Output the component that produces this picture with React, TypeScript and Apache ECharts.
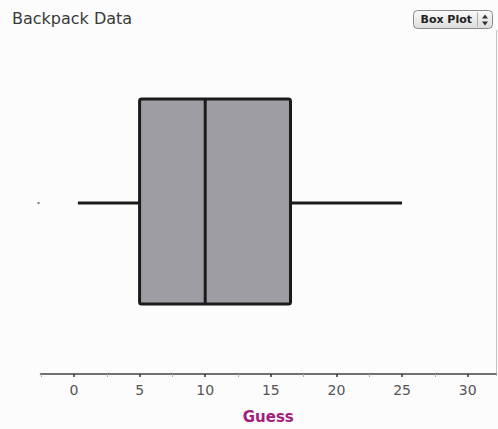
import React, { useEffect, useRef } from "react";
import * as echarts from "echarts";

const title = "Backpack Data";
const axisName = "Guess";
const categories = ["Guess"];
const minValues = [0.3];
const q1Values = [5];
const medianValues = [10];
const q3Values = [16.5];
const maxValues = [25];
const outlierValues = [-2.7];
const tickLabels = [0, 5, 10, 15, 20, 25, 30];
const minorTicks = [-2.5, 2.5, 7.5, 12.5, 17.5, 22.5, 27.5];

export default function App() {
  const ref = useRef<HTMLDivElement>(null);
  useEffect(() => {
    if (!ref.current) return;
    const chart = echarts.init(ref.current, null, { renderer: "svg" });
    const boxData = categories.map((_, i) => [
      minValues[i],
      q1Values[i],
      medianValues[i],
      q3Values[i],
      maxValues[i],
    ]);
    const axisMin = -2.55;
    const axisMax = 32.16;
    const font = "DejaVu Sans";
    chart.setOption({
      animation: false,
      backgroundColor: "#fcfcfc",
      grid: { left: 40.5, right: 2, top: 32, bottom: 53 },
      xAxis: [
        {
          type: "value",
          min: axisMin,
          max: axisMax,
          position: "bottom",
          name: axisName,
          nameLocation: "middle",
          nameGap: 35,
          nameTextStyle: {
            color: "#a2207c",
            fontFamily: font,
            fontWeight: "bold",
            fontSize: 15,
          },
          axisLine: { show: true, lineStyle: { color: "#444", width: 1.5 } },
          axisTick: {
            show: true,
            length: 3,
            customValues: tickLabels,
            lineStyle: { color: "#333", width: 1.5 },
          },
          axisLabel: {
            customValues: tickLabels,
            color: "#555",
            fontFamily: font,
            fontSize: 14,
            margin: 9,
          },
          splitLine: { show: false },
        },
        {
          type: "value",
          min: axisMin,
          max: axisMax,
          position: "bottom",
          axisLine: { show: false },
          axisTick: {
            show: true,
            length: 3,
            customValues: minorTicks,
            lineStyle: { color: "#aaa", width: 1 },
          },
          axisLabel: { show: false },
          splitLine: { show: false },
        },
      ],
      yAxis: { type: "value", min: 0, max: 1, show: false },
      graphic: [
        {
          type: "text",
          left: 12,
          top: 10,
          style: {
            text: title,
            fill: "#3a3a3a",
            font: `16px ${font}`,
          },
        },
        {
          type: "line",
          shape: { x1: 496.5, y1: 30, x2: 496.5, y2: 376 },
          style: { stroke: "#c4c4c4", lineWidth: 1 },
        },
        {
          type: "group",
          left: 413,
          top: 10,
          children: [
            {
              type: "rect",
              shape: { x: 0, y: 0, width: 79, height: 18, r: 4 },
              style: {
                fill: new echarts.graphic.LinearGradient(0, 0, 0, 1, [
                  { offset: 0, color: "#fbfbfb" },
                  { offset: 1, color: "#dcdcdc" },
                ]),
                stroke: "#8a8a8a",
                lineWidth: 1,
              },
            },
            {
              type: "text",
              x: 7,
              y: 9,
              style: {
                text: "Box Plot",
                fill: "#222",
                font: `bold 11px ${font}`,
                verticalAlign: "middle",
              },
            },
            {
              type: "line",
              shape: { x1: 64, y1: 2, x2: 64, y2: 16 },
              style: { stroke: "#aaa", lineWidth: 1 },
            },
            {
              type: "polygon",
              shape: { points: [[68.5, 8], [71.5, 4], [74.5, 8]] },
              style: { fill: "#333" },
            },
            {
              type: "polygon",
              shape: { points: [[68.5, 11], [71.5, 15], [74.5, 11]] },
              style: { fill: "#333" },
            },
          ],
        },
      ],
      series: [
        {
          type: "custom",
          data: boxData,
          clip: false,
          renderItem: (params: any, api: any) => {
            const lo = api.coord([api.value(0), 0.5]);
            const a = api.coord([api.value(1), 0.5]);
            const m = api.coord([api.value(2), 0.5]);
            const b = api.coord([api.value(3), 0.5]);
            const hi = api.coord([api.value(4), 0.5]);
            const cy = lo[1];
            const stroke = "#1b1b1b";
            const top = cy - 104;
            const h = 205;
            return {
              type: "group",
              children: [
                {
                  type: "line",
                  shape: { x1: lo[0], y1: cy, x2: a[0], y2: cy },
                  style: { stroke, lineWidth: 3 },
                },
                {
                  type: "line",
                  shape: { x1: b[0], y1: cy, x2: hi[0], y2: cy },
                  style: { stroke, lineWidth: 3 },
                },
                {
                  type: "rect",
                  shape: {
                    x: a[0],
                    y: top,
                    width: b[0] - a[0],
                    height: h,
                    r: 2,
                  },
                  style: { fill: "#9e9da4", stroke, lineWidth: 3 },
                },
                {
                  type: "line",
                  shape: { x1: m[0], y1: top, x2: m[0], y2: top + h },
                  style: { stroke, lineWidth: 3 },
                },
              ],
            };
          },
        },
        {
          type: "scatter",
          clip: false,
          data: outlierValues.map((v) => [v, 0.5]),
          symbolSize: 2.5,
          itemStyle: { color: "#666" },
        },
      ],
    });
    return () => chart.dispose();
  }, []);
  return (
    <div
      ref={ref}
      style={{ position: "fixed", left: 0, top: 0, width: 498, height: 429 }}
    />
  );
}
